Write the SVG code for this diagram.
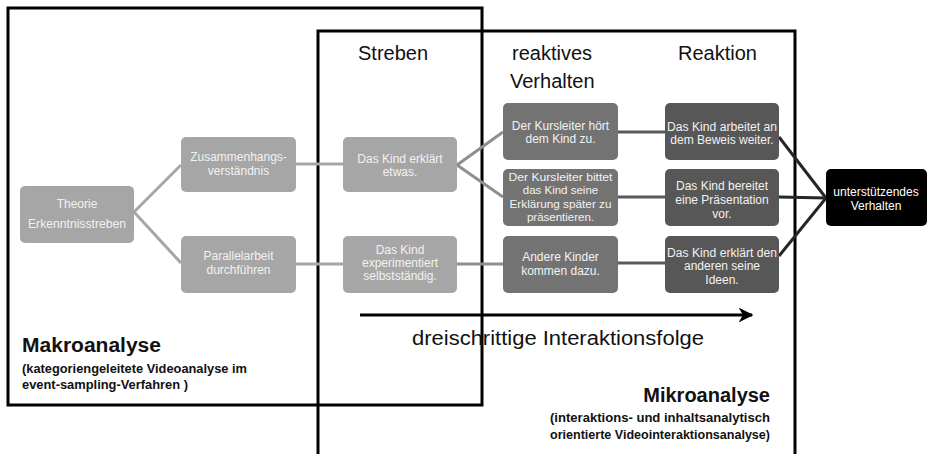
<svg xmlns="http://www.w3.org/2000/svg" width="933" height="454" viewBox="0 0 933 454">
<defs>
<style>
.frame{fill:none;stroke:#000;stroke-width:3}
.n1{fill:#a6a6a6}
.n2{fill:#737373}
.n3{fill:#575757}
.n4{fill:#000}
.t{font-family:"Liberation Sans",Arial,sans-serif;font-size:12px;fill:#f2f2f2;text-anchor:middle}
.ts{font-size:11.5px}
.hd{font-family:"Liberation Sans",Arial,sans-serif;font-size:20px;fill:#111}
.c1{stroke:#a6a6a6;stroke-width:3;fill:none}
.c2{stroke:#8f8f8f;stroke-width:3;fill:none}
.c3{stroke:#5a5a5a;stroke-width:3;fill:none}
.c4{stroke:#262626;stroke-width:3;fill:none}
.ttl{font-family:"Liberation Sans",Arial,sans-serif;font-weight:bold;fill:#111}
</style>
<marker id="ah" viewBox="0 0 10 10" refX="9" refY="5" markerWidth="5" markerHeight="5" orient="auto" markerUnits="strokeWidth">
<path d="M0,0 L10,5 L0,10 L3,5 Z" fill="#000"/>
</marker>
</defs>
<rect width="933" height="454" fill="#fff"/>

<g id="frames">
<rect class="frame" x="8" y="8" width="474" height="397"/>
<rect class="frame" x="318" y="31" width="477" height="440"/>
</g>

<g id="headers">
<text class="hd" x="358" y="60">Streben</text>
<text class="hd" x="512" y="60">reaktives</text>
<text class="hd" x="510" y="88">Verhalten</text>
<text class="hd" x="678" y="60">Reaktion</text>
</g>

<g id="connectors">
<path class="c1" d="M134,212 L181,165"/>
<path class="c1" d="M134,212 L181,263"/>
<path class="c1" d="M296,164 L343,164"/>
<path class="c1" d="M296,264 L343,264"/>
<path class="c2" d="M457,165 L503,132"/>
<path class="c2" d="M457,165 L503,197"/>
<path class="c2" d="M457,264 L503,264"/>
<path class="c3" d="M618,132 L665,132"/>
<path class="c3" d="M618,197 L665,197"/>
<path class="c3" d="M618,263 L665,263"/>
<path class="c4" d="M779,137 L826,198"/>
<path class="c4" d="M779,197 L826,198"/>
<path class="c4" d="M779,256 L826,198"/>
<path d="M360,315 L752,315" stroke="#000" stroke-width="3" marker-end="url(#ah)"/>
</g>

<g id="theorie">
<rect class="n1" x="20" y="186" width="114" height="57" rx="5"/>
<text class="t" x="77" y="208">Theorie</text>
<text class="t" x="77" y="228" textLength="98" lengthAdjust="spacingAndGlyphs">Erkenntnisstreben</text>
</g>
<g id="zusammenhang">
<rect class="n1" x="181" y="137" width="115" height="55" rx="5"/>
<text class="t" x="238.5" y="161">Zusammenhangs-</text>
<text class="t" x="238.5" y="175">verständnis</text>
</g>
<g id="parallel">
<rect class="n1" x="181" y="236" width="115" height="57" rx="5"/>
<text class="t" x="238.5" y="260">Parallelarbeit</text>
<text class="t" x="238.5" y="274">durchführen</text>
</g>
<g id="erklaert">
<rect class="n1" x="343" y="137" width="114" height="55" rx="5"/>
<text class="t" x="400" y="163">Das Kind erklärt</text>
<text class="t" x="400" y="176">etwas.</text>
</g>
<g id="experimentiert">
<rect class="n1" x="343" y="236" width="114" height="57" rx="5"/>
<text class="t" x="400" y="254">Das Kind</text>
<text class="t" x="400" y="267">experimentiert</text>
<text class="t" x="400" y="280">selbstständig.</text>
</g>
<g id="hoert">
<rect class="n2" x="503" y="103" width="115" height="57" rx="5"/>
<text class="t" x="560.5" y="130">Der Kursleiter hört</text>
<text class="t" x="560.5" y="143">dem  Kind zu.</text>
</g>
<g id="bittet">
<rect class="n2" x="503" y="169" width="115" height="57" rx="5"/>
<text class="t ts" x="560.5" y="181" textLength="104" lengthAdjust="spacingAndGlyphs">Der Kursleiter bittet</text>
<text class="t ts" x="560.5" y="194">das Kind seine</text>
<text class="t ts" x="560.5" y="208" textLength="102" lengthAdjust="spacingAndGlyphs">Erklärung später zu</text>
<text class="t ts" x="560.5" y="221">präsentieren.</text>
</g>
<g id="andere">
<rect class="n2" x="503" y="236" width="115" height="57" rx="5"/>
<text class="t" x="560.5" y="261">Andere  Kinder</text>
<text class="t" x="560.5" y="275">kommen  dazu.</text>
</g>
<g id="arbeitet">
<rect class="n3" x="665" y="103" width="114" height="57" rx="5"/>
<text class="t" x="722" y="131" textLength="110" lengthAdjust="spacingAndGlyphs">Das Kind  arbeitet an</text>
<text class="t" x="722" y="144">dem  Beweis  weiter.</text>
</g>
<g id="bereitet">
<rect class="n3" x="665" y="169" width="114" height="57" rx="5"/>
<text class="t" x="722" y="190">Das Kind bereitet</text>
<text class="t" x="722" y="204">eine Präsentation</text>
<text class="t" x="722" y="218">vor.</text>
</g>
<g id="ideen">
<rect class="n3" x="665" y="236" width="114" height="57" rx="5"/>
<text class="t" x="722" y="257" textLength="110" lengthAdjust="spacingAndGlyphs">Das Kind erklärt den</text>
<text class="t" x="722" y="270">anderen seine</text>
<text class="t" x="722" y="284">Ideen.</text>
</g>
<g id="unterstuetzend">
<rect class="n4" x="826" y="169" width="101" height="57" rx="5"/>
<text class="t" x="876" y="196" style="fill:#fff">unterstützendes</text>
<text class="t" x="876" y="210" style="fill:#fff">Verhalten</text>
</g>

<g id="labels">
<text x="412" y="345" font-family="Liberation Sans, Arial, sans-serif" font-size="20" fill="#111" textLength="292" lengthAdjust="spacingAndGlyphs">dreischrittige Interaktionsfolge</text>
<text class="ttl" x="22" y="352" font-size="20" textLength="139" lengthAdjust="spacingAndGlyphs">Makroanalyse</text>
<text class="ttl" x="22" y="373" font-size="12" textLength="225" lengthAdjust="spacingAndGlyphs">(kategoriengeleitete Videoanalyse im</text>
<text class="ttl" x="22" y="389" font-size="12" textLength="166" lengthAdjust="spacingAndGlyphs">event-sampling-Verfahren )</text>
<text class="ttl" x="770" y="402" font-size="20" text-anchor="end">Mikroanalyse</text>
<text class="ttl" x="770" y="422" font-size="12" text-anchor="end" textLength="220" lengthAdjust="spacingAndGlyphs">(interaktions- und inhaltsanalytisch</text>
<text class="ttl" x="770" y="439" font-size="12" text-anchor="end" textLength="220" lengthAdjust="spacingAndGlyphs">orientierte Videointeraktionsanalyse)</text>
</g>
</svg>
